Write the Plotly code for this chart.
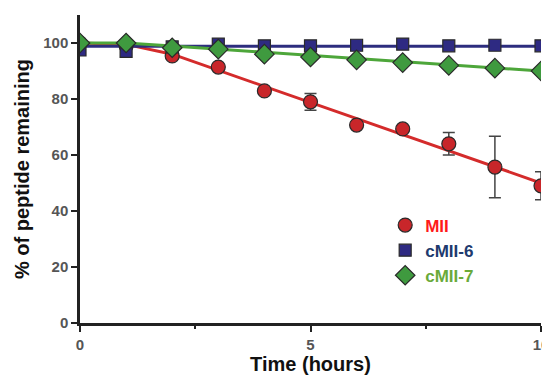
import plotly.graph_objects as go

hours = [0, 1, 2, 3, 4, 5, 6, 7, 8, 9, 10]
mii = [100, 99, 95.4, 91.4, 82.9, 79, 70.7, 69.3, 64, 55.7, 49]
mii_err = [0, 0, 0, 0, 0, 3, 0, 0, 4, 11, 5]
cmii6 = [97.5, 97, 98.6, 99.6, 99, 99, 99.2, 99.6, 99, 99.2, 99]
cmii7 = [100, 100, 98.3, 97.8, 96, 95, 94, 93, 92, 91, 90]

fit_hours = [0, 1, 2, 3, 4, 5, 6, 7, 8, 9, 10]
mii_fit = [100, 99.5, 96, 90.25, 84.5, 78.75, 73, 67.25, 61.5, 55.75, 50]
cmii6_fit = [98.8, 98.8, 98.8, 98.8, 98.8, 98.8, 98.8, 98.8, 98.8, 98.8, 98.8]
cmii7_fit = [100, 100, 98.9, 97.8, 96.7, 95.6, 94.4, 93.3, 92.2, 91.1, 90]

red = "#d42b2b"
navy = "#2d2d7e"
green = "#4da63a"
outline = "#2a2a2a"

fig = go.Figure()
fig.add_trace(go.Scatter(x=fit_hours, y=mii_fit, mode="lines",
                         line=dict(color=red, width=3), showlegend=False))
fig.add_trace(go.Scatter(x=fit_hours, y=cmii6_fit, mode="lines",
                         line=dict(color=navy, width=3), showlegend=False))
fig.add_trace(go.Scatter(x=fit_hours, y=cmii7_fit, mode="lines",
                         line=dict(color=green, width=3), showlegend=False))

fig.add_trace(go.Scatter(
    x=hours, y=mii, mode="markers",
    name="<b><span style='color:#ff1a1a'>MII</span></b>",
    marker=dict(symbol="circle", size=14, color="#c8262a",
                line=dict(color=outline, width=1.2)),
    error_y=dict(type="data", array=mii_err, visible=True,
                 color="#444444", thickness=1.5, width=6)))
fig.add_trace(go.Scatter(
    x=hours, y=cmii6, mode="markers",
    name="<b><span style='color:#203a6e'>cMII-6</span></b>",
    marker=dict(symbol="square", size=12, color="#2e2a82",
                line=dict(color=outline, width=1.2))))
fig.add_trace(go.Scatter(
    x=hours, y=cmii7, mode="markers",
    name="<b><span style='color:#6aaa3a'>cMII-7</span></b>",
    marker=dict(symbol="diamond", size=15, color="#3f9a3f",
                line=dict(color=outline, width=1.2))))

fig.update_layout(
    width=542, height=377,
    margin=dict(l=80, r=1, t=15, b=54),
    paper_bgcolor="white", plot_bgcolor="white",
    font=dict(family="Liberation Sans, Arial, sans-serif", color="#333333"),
    legend=dict(x=0.662, y=0.375, xanchor="left", yanchor="top",
                bgcolor="rgba(0,0,0,0)", font=dict(size=17),
                itemwidth=30, tracegroupgap=0),
    xaxis=dict(range=[0, 10], tickvals=[0, 5, 10], ticktext=["<b>0</b>", "<b>5</b>", "<b>10</b>"],
               showline=True, linecolor="#222222", linewidth=2.5,
               ticks="outside", ticklen=6, tickwidth=2, tickcolor="#222222",
               ticklabeloverflow="allow",
               minor=dict(tickvals=[2.5, 7.5], ticks="outside", ticklen=3,
                          tickwidth=2, tickcolor="#222222"),
               showgrid=False, zeroline=False, automargin=False,
               tickfont=dict(size=15, color="#555555"),
               title=dict(text="<b>Time (hours)</b>", standoff=5,
                          font=dict(size=20, color="#111111"))),
    yaxis=dict(range=[0, 110], tickvals=[0, 20, 40, 60, 80, 100],
               ticktext=["<b>0</b>", "<b>20</b>", "<b>40</b>", "<b>60</b>", "<b>80</b>", "<b>100</b>"],
               showline=True, linecolor="#222222", linewidth=2.5,
               ticks="outside", ticklen=6, tickwidth=2, tickcolor="#222222",
               showgrid=False, zeroline=False, automargin=False,
               tickfont=dict(size=15, color="#555555"),
               title=dict(text="<b>% of peptide remaining</b>", standoff=9,
                          font=dict(size=20, color="#111111"))),
)

fig.write_html("out.html", config={"displayModeBar": False},
               post_script="document.body.style.margin='0px';document.body.style.overflow='hidden';")
